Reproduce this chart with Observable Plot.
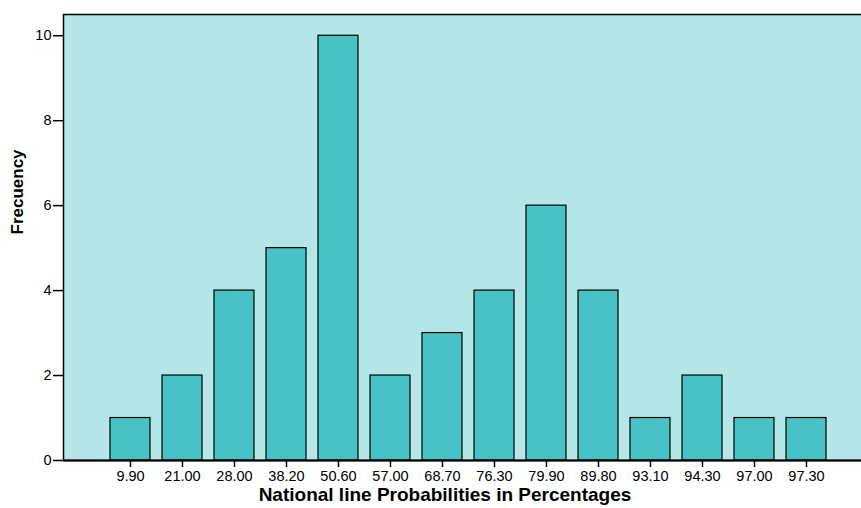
<!DOCTYPE html>
<html>
<head>
<meta charset="utf-8">
<script src="https://cdn.jsdelivr.net/npm/d3@7"></script>
<script src="https://cdn.jsdelivr.net/npm/@observablehq/plot@0.6"></script>
<style>
  body { margin: 0; background: #fff; }
  svg { font-family: "Liberation Sans", Arial, sans-serif; }
</style>
</head>
<body>
<div id="chart"></div>
<script>
const categories = ["9.90","21.00","28.00","38.20","50.60","57.00","68.70","76.30","79.90","89.80","93.10","94.30","97.00","97.30"];
const frequencies = [1,2,4,5,10,2,3,4,6,4,1,2,1,1];
const yTicks = [0,2,4,6,8,10];
const xLabel = "National line Probabilities in Percentages";
const yLabel = "Frecuency";

const data = categories.map((c, i) => ({cat: c, freq: frequencies[i]}));

const chart = Plot.plot({
  width: 861,
  height: 508,
  marginLeft: 63,
  marginRight: -3,
  marginTop: 14,
  marginBottom: 48,
  style: {fontFamily: "Liberation Sans, Arial, sans-serif", fontSize: "14px", color: "#000", background: "#fff"},
  x: {domain: categories, insetLeft: 35, insetRight: 26, padding: 0.23},
  y: {domain: [0, 10.5]},
  marks: [
    Plot.frame({fill: "#b4e6e7", stroke: "#000", strokeWidth: 1.5}),
    Plot.barY(data, {x: "cat", y: "freq", fill: "#48c2c5", stroke: "#000", strokeWidth: 1.2}),
    Plot.ruleY([0], {stroke: "#000", strokeWidth: 2}),
    Plot.axisX({tickSize: 7, tickPadding: 3, label: null, fontSize: 14.5, stroke: "#000", strokeWidth: 1.5}),
    Plot.axisY({ticks: yTicks, tickSize: 10, tickPadding: 2, label: null, fontSize: 14.5, tickFormat: d3.format("d"), stroke: "#000", strokeWidth: 1.5}),
    Plot.text([xLabel], {frameAnchor: "bottom", dx: -19, dy: 40, fontWeight: "bold", fontSize: 19, fill: "#000"}),
    Plot.text([yLabel], {frameAnchor: "left", dx: -46, dy: -3, rotate: -90, fontWeight: "bold", fontSize: 17, fill: "#000"})
  ]
});
document.getElementById("chart").appendChild(chart);
</script>
</body>
</html>
